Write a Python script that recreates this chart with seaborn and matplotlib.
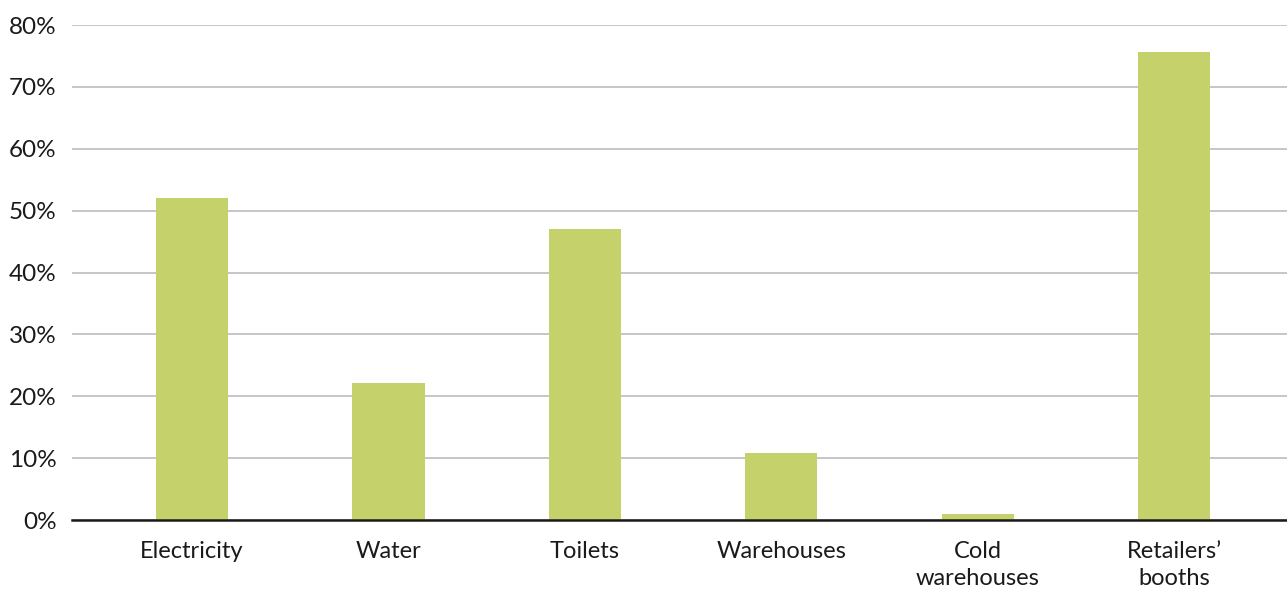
import matplotlib
matplotlib.use("Agg")
import matplotlib.pyplot as plt
import seaborn as sns
import pandas as pd
from matplotlib.ticker import FuncFormatter

categories = ["Electricity", "Water", "Toilets", "Warehouses", "Cold\nwarehouses", "Retailers’\nbooths"]
shares = [52, 22.2, 47, 10.8, 0.9, 75.7]
y_ticks = [0, 10, 20, 30, 40, 50, 60, 70, 80]

df = pd.DataFrame({"category": categories, "share": shares})

sns.set_theme(style="white")
plt.rcParams["font.family"] = ["Lato", "DejaVu Sans"]

fig = plt.figure(figsize=(12.87, 5.90), dpi=100)
ax = fig.add_axes([0.056, 0.1186, 0.944, 0.839])

sns.barplot(data=df, x="category", y="share", color="#c5d26b", width=0.367,
            saturation=1, linewidth=0, ax=ax, zorder=3)

ax.set_ylim(0, 80)
ax.set_xlim(-0.611, 5.575)
ax.set_yticks(y_ticks)
ax.yaxis.set_major_formatter(FuncFormatter(lambda v, p: f"{v:.0f}%"))
ax.grid(axis="y", color="#c6c6c6", linewidth=1.4, zorder=0)
ax.grid(axis="x", visible=False)
for s in ["top", "right", "left"]:
    ax.spines[s].set_visible(False)
ax.spines["bottom"].set_color("#1a1a1a")
ax.spines["bottom"].set_linewidth(1.8)
ax.spines["bottom"].set_zorder(4)

ax.tick_params(axis="y", length=0, pad=11, labelsize=17.5, labelcolor="#1a1a1a")
ax.tick_params(axis="x", length=0, pad=15, labelsize=17, labelcolor="#1a1a1a")
for lbl in ax.get_xticklabels():
    lbl.set_linespacing(1.35)
ax.set_xlabel("")
ax.set_ylabel("")

fig.savefig("out.png", dpi=100, facecolor="white")
